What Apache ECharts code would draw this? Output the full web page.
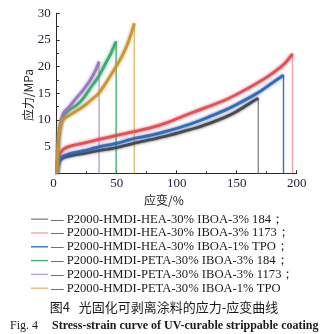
<!DOCTYPE html>
<html>
<head>
<meta charset="utf-8">
<script src="https://cdn.jsdelivr.net/npm/echarts@6/dist/echarts.min.js"></script>
<style>
  html, body { margin: 0; padding: 0; background: #fff; }
  #chart { width: 326px; height: 334px; }
</style>
</head>
<body>
<div id="chart"></div>
<script>
// Stress–strain curves, strain (%) vs stress (MPa)
const seriesNames = [
  'P2000-HMDI-HEA-30% IBOA-3% 184；',
  'P2000-HMDI-HEA-30% IBOA-3% 1173；',
  'P2000-HMDI-HEA-30% IBOA-1% TPO；',
  'P2000-HMDI-PETA-30% IBOA-3% 184；',
  'P2000-HMDI-PETA-30% IBOA-3% 1173；',
  'P2000-HMDI-PETA-30% IBOA-1% TPO'
];

const hea184Strain = [0, 0.5, 1.5, 3, 5.5, 10, 22, 36, 50, 64, 78, 92, 111, 119, 139, 150, 160, 168];
const hea184Stress = [0, 0.8, 1.8, 2.5, 2.9, 3.2, 3.7, 4.3, 4.8, 5.6, 6.3, 7.0, 8.2, 8.7, 10.4, 11.6, 13.0, 14.1];

const hea1173Strain = [0, 0.5, 1.4, 3, 5.5, 10, 17, 25, 36, 50, 64, 78, 92, 111, 125, 139, 150, 167, 180, 190, 196.5];
const hea1173Stress = [0, 1, 2.5, 3.8, 4.5, 5, 5.4, 5.8, 6.4, 7.1, 7.8, 8.5, 9.5, 11.2, 12.4, 13.6, 14.8, 16.9, 18.8, 20.6, 22.4];

const heaTpoStrain = [0, 0.5, 1.5, 3, 5.5, 10, 22, 36, 50, 64, 78, 92, 111, 125, 139, 150, 167, 180, 189];
const heaTpoStress = [0, 1, 2, 2.8, 3.2, 3.6, 4.2, 5.0, 5.6, 6.5, 7.1, 7.9, 9.2, 10.4, 11.7, 12.9, 15, 17, 18.4];

const peta184Strain = [0, 0.5, 1, 2, 4, 6, 10, 16.7, 22, 27.8, 35, 40, 45, 49.5];
const peta184Stress = [0, 2.5, 4.5, 7.5, 9.8, 10.8, 11.8, 12.8, 14, 15.9, 18.2, 20.3, 22.4, 24.7];

const peta1173Strain = [0, 0.5, 1, 2.75, 5.5, 11, 16, 22, 28, 33, 35.3];
const peta1173Stress = [0, 2.5, 5, 8.5, 11.2, 12.6, 14, 15.6, 17.5, 19.6, 20.9];

const petaTpoStrain = [0, 0.5, 1, 2, 4, 6, 10, 15, 20, 25, 30, 35, 40, 45, 50, 55, 60, 64.7];
const petaTpoStress = [0, 2.5, 5, 7.5, 9.5, 10.2, 10.8, 11.5, 12.2, 13, 14, 15, 16.6, 18.4, 20.2, 22.2, 24.8, 28.1];

const xTicks = [0, 50, 100, 150, 200];
const yTicks = [5, 10, 15, 20, 25, 30];

const curveColors = ['#444444', '#e8464f', '#2e64b6', '#36a86a', '#9a72c2', '#c8922e'];
const breakColors = ['#8c8c8c', '#f4a3aa', '#3470c4', '#3cb374', '#bba3d8', '#e2ba7a'];

const strains = [hea184Strain, hea1173Strain, heaTpoStrain, peta184Strain, peta1173Strain, petaTpoStrain];
const stresses = [hea184Stress, hea1173Stress, heaTpoStress, peta184Stress, peta1173Stress, petaTpoStress];

const pairs = (xs, ys) => xs.map((x, i) => [x, ys[i]]);

const series = [];
strains.forEach((xs, k) => {
  const pts = pairs(xs, stresses[k]);
  const last = pts[pts.length - 1];
  // vertical drop at the break point
  series.push({
    name: 'break' + k,
    type: 'line',
    data: [last, [last[0], 0]],
    symbol: 'none',
    silent: true,
    lineStyle: { color: breakColors[k], width: 1.4 },
    z: 1
  });
  series.push({
    name: seriesNames[k],
    type: 'line',
    data: pts,
    symbol: 'none',
    smooth: 0.3,
    color: curveColors[k],
    lineStyle: {
      color: curveColors[k],
      width: 2.8,
      opacity: 0.9,
      shadowColor: curveColors[k],
      shadowBlur: 3
    },
    z: 2 + k
  });
});

const serif = '"Liberation Serif", "DejaVu Serif", serif';
const cjk = '"Noto Sans CJK SC", sans-serif';
const labelColor = '#1d1d38';

const chart = echarts.init(document.getElementById('chart'), null, { renderer: 'canvas' });
chart.setOption({
  animation: false,
  backgroundColor: '#ffffff',
  grid: { left: 56.7, right: 29.3, top: 13.3, bottom: 160.7 },
  xAxis: {
    type: 'value',
    min: 0, max: 200, interval: 50,
    axisLine: { show: true, lineStyle: { color: '#2a2a2a', width: 1 } },
    axisTick: { show: true, inside: true, length: 3, lineStyle: { color: '#2a2a2a' } },
    minorTick: { show: true, splitNumber: 2, length: 2, lineStyle: { color: '#2a2a2a' } },
    splitLine: { show: false },
    axisLabel: {
      color: labelColor, fontFamily: serif, fontSize: 13, margin: 4,
      formatter: v => (xTicks.includes(v) ? String(v) : ''),
      alignMinLabel: 'right'
    }
  },
  yAxis: {
    type: 'value',
    min: 0, max: 30, interval: 5,
    axisLine: { show: true, lineStyle: { color: '#2a2a2a', width: 1 } },
    axisTick: { show: true, inside: true, length: 3, lineStyle: { color: '#2a2a2a' } },
    minorTick: { show: true, splitNumber: 2, length: 2, lineStyle: { color: '#2a2a2a' } },
    splitLine: { show: false },
    axisLabel: {
      color: labelColor, fontFamily: serif, fontSize: 13, margin: 6,
      formatter: v => (yTicks.includes(v) ? String(v) : '')
    }
  },
  legend: {
    orient: 'vertical',
    left: 31, top: 212.3,
    padding: 0,
    itemGap: 0,
    itemWidth: 17,
    itemHeight: 1.4,
    icon: 'rect',
    data: seriesNames.map((n, k) => ({ name: n, itemStyle: { color: breakColors[k] } })),
    formatter: n => '— ' + n,
    textStyle: { color: '#1a1a1a', fontFamily: serif, fontSize: 12.6, lineHeight: 13.8, padding: [0, 0, 0, -2] },
    selectedMode: false
  },
  graphic: [
    {
      type: 'text', x: 164, y: 200,
      style: { text: '应变/%', font: '12px ' + cjk, fill: '#222', align: 'center', verticalAlign: 'middle' }
    },
    {
      type: 'text', x: 28, y: 95, rotation: Math.PI / 2,
      style: { text: '应力/MPa', font: '12px ' + cjk, fill: '#222', align: 'center', verticalAlign: 'middle' }
    },
    {
      type: 'text', x: 164, y: 307,
      style: { text: '图4   光固化可剥离涂料的应力-应变曲线', font: '13px ' + cjk, fill: '#1a1a1a', align: 'center', verticalAlign: 'middle' }
    },
    {
      type: 'text', x: 10, y: 326,
      style: {
        text: '{a|Fig. 4}{b|Stress-strain curve of UV-curable strippable coating}',
        verticalAlign: 'middle',
        rich: {
          a: { font: '12px ' + serif, fill: '#1a1a1a', width: 42 },
          b: { font: 'bold 12px ' + serif, fill: '#1a1a1a' }
        }
      }
    }
  ],
  series: series
});
</script>
</body>
</html>
